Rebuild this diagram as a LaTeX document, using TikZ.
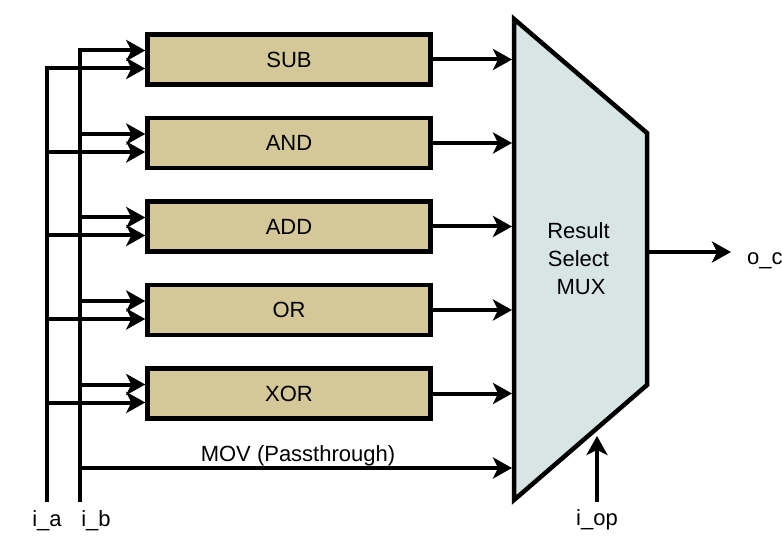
\documentclass[tikz,border=0pt]{standalone}
\usepackage{fontspec}
\setmainfont{Liberation Sans}
\usetikzlibrary{arrows.meta}
\definecolor{alufill}{HTML}{D4C798}
\definecolor{muxfill}{HTML}{D8E5E5}
\begin{document}
\begin{tikzpicture}[x=1pt,y=-1pt,
  wire/.style={line width=4pt},
  arr/.style={wire,-{Stealth[length=19pt,width=21pt,inset=5pt]}},
  alu/.style={draw,line width=4.5pt,fill=alufill,minimum width=283pt,minimum height=50pt,inner sep=0pt,font=\fontsize{22}{26}\selectfont},
  lbl/.style={font=\fontsize{22}{28}\selectfont,inner sep=0pt,anchor=base}]
\useasboundingbox (0,0) rectangle (782,537);
% MUX
\coordinate (mtl) at (514,19);
\coordinate (mtr) at (647,133);
\coordinate (mbr) at (647,385);
\coordinate (mbl) at (514,500);
\draw[line width=4.5pt,fill=muxfill,line join=miter] (mtl) -- (mtr) -- (mbr) -- (mbl) -- cycle;
\node[lbl,anchor=center,align=center] (muxtxt) at (578.5,259) {Result\\Select\\\hspace*{5pt}MUX};
% ALU boxes
\node[alu] (nsub) at (289,59.5) {SUB};
\node[alu] (nand) at (289,143) {AND};
\node[alu] (nadd) at (289,226.5) {ADD};
\node[alu] (nor) at (289,310) {OR};
\node[alu] (nxor) at (289,393.5) {XOR};
\foreach \n in {nsub,nand,nadd,nor,nxor}{
  \path ([yshift=-9pt]\n.west) coordinate (\n A) ([yshift=9pt]\n.west) coordinate (\n B);
}
% buses
\coordinate (ia) at (47,502);
\coordinate (ib) at (80,502);
\coordinate (muxin) at (512,0);
\draw[arr] (ia) |- (nsubA);
\foreach \n in {nand,nadd,nor,nxor}{
  \draw[arr] (ia |- \n A) -- (\n A);
}
\draw[arr] (ib) |- (nsubB);
\foreach \n in {nand,nadd,nor,nxor}{
  \draw[arr] (ib |- \n B) -- (\n B);
}
% outputs to mux
\foreach \n in {nsub,nand,nadd,nor,nxor}{
  \draw[arr] (\n.east) -- (\n.east -| muxin);
}
\coordinate (mov) at (80,468);
\draw[arr] (mov) -- (mov -| muxin);
\node[lbl] (movlbl) at (298,461.5) {MOV (Passthrough)};
% select and output
\coordinate (opS) at (597,502);
\coordinate (opE) at (597,436);
\draw[arr] (opS) -- (opE);
\coordinate (mr) at (647,252);
\coordinate (oc) at (731,252);
\draw[arr] (mr) -- (oc);
% labels
\node[lbl] (la) at (47,526) {i\_a};
\node[lbl] (lb) at (96,526) {i\_b};
\node[lbl] (lop) at (597,525) {i\_op};
\node[lbl,anchor=base west] (loc) at (747,265) {o\_c};
\end{tikzpicture}
\end{document}
